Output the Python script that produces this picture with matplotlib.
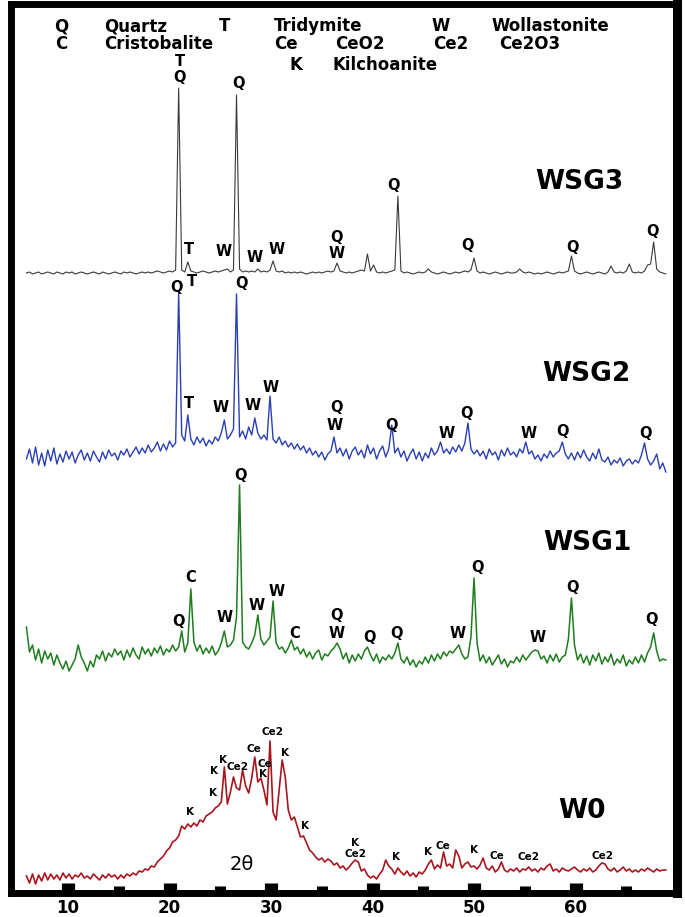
import numpy as np
import matplotlib.pyplot as plt

plt.rcParams['font.family'] = ['DejaVu Sans']

# 2-theta grid (deg) shared by the four patterns
two_theta = np.round(np.arange(5.9, 68.95, 0.3), 1)

# intensities (a.u.), one row = 3 degrees
wsg3 = np.array([
    0, 1, -1, 0, 1, -1, 0, 1, 0, -1,
    1, 0, -1, 1, 0, 1, -1, 0, 1, 0,
    -1, 0, 1, 0, -1, 1, 0, -1, 0, 1,
    0, -1, 1, 0, 1, 0, -1, 0, 1, 0,
    1, 0, 1, 2, 1, 0, 1, 2, 1, 3,
    185, 3, 1, 11, 2, 1, 0, 1, 2, 1,
    0, 1, 2, 1, 2, 3, 4, 1, 3, 178,
    4, 1, 2, 1, 2, 1, 4, 1, 2, 1,
    3, 12, 2, 1, 2, 0, 1, 0, 1, 0,
    1, 0, -1, 0, 1, 0, 1, 0, 1, 2,
    1, 2, 10, 2, 1, 0, 1, 0, 1, 2,
    3, 2, 19, 2, 8, 1, 0, 1, 0, 1,
    2, 3, 77, 2, 0, 1, 0, -1, 0, 1,
    0, 1, 4, 1, 0, -1, 0, 1, 0, -1,
    0, 1, 0, 1, 2, 1, 3, 15, 2, 0,
    1, 0, -1, 0, 1, 0, -1, 0, 1, 0,
    0, 1, 4, 1, 0, 1, 0, -1, 0, -1,
    0, 1, 0, -1, 0, 1, 0, 1, 2, 17,
    2, 0, -1, 0, 1, 0, -1, 0, 1, 0,
    -1, 1, 7, 1, 0, 1, 0, 2, 9, 1,
    0, 1, 0, 2, 8, 9, 31, 4, 1, 0,
    -1])

wsg2 = np.array([
    -2, 8, -6, 10, -8, 4, -9, 7, -4, 9,
    -7, 3, -5, 6, -2, 5, -6, 2, 7, -3,
    4, -4, 6, 0, -5, 5, -2, 7, 1, 4,
    -3, 6, 2, 8, 0, 5, 10, 3, 9, 4,
    12, 5, 9, 15, 6, 13, 7, 16, 10, 14,
    164, 22, 16, 42, 18, 12, 20, 14, 19, 11,
    17, 13, 20, 16, 24, 37, 18, 22, 28, 163,
    20, 26, 18, 30, 22, 39, 24, 18, 22, 17,
    61, 18, 14, 20, 12, 16, 10, 14, 8, 13,
    7, 11, 4, 9, 2, 6, 0, 5, -3, 3,
    6, 20, 4, 9, 1, 8, -2, 6, 10, 2,
    7, -1, 12, 3, 9, -2, 6, 11, 0, 8,
    32, 4, 9, 0, 6, -4, 3, 8, -2, 5,
    -4, 4, -1, 9, 2, 6, 15, 4, 8, 3,
    10, 5, 12, 6, 14, 34, 8, 3, 7, 1,
    6, -2, 8, 2, 5, -3, 7, 1, 9, 2,
    5, 0, 8, 4, 15, 3, 6, -2, 2, -4,
    3, -1, 6, 0, 4, 6, 15, 3, -2, 4,
    -3, 5, -1, 7, 0, -4, 4, -2, 8, -3,
    -5, 0, -8, -3, -6, -1, -9, -4, -2, -7,
    -3, -6, 2, 14, -2, -8, -4, 3, -12, -6,
    -15])

wsg1 = np.array([
    30, 5, 12, -3, 8, -6, 6, -2, 4, -8,
    2, -6, -12, -4, -14, -8, -2, 12, 0, -6,
    -14, -4, -10, 2, -2, 6, -4, 4, 0, 8,
    2, 6, -3, 7, 0, 9, 2, -2, 10, 3,
    8, 1, 9, 4, 11, 2, 8, 5, 12, 6,
    10, 26, 5, 14, 68, 15, 6, 12, 3, 9,
    4, 11, 2, 6, 14, 26, 10, 12, 17, 40,
    172, 15, 10, 8, 14, 22, 42, 18, 12, 16,
    20, 56, 14, 8, 10, 4, 9, 17, 7, 10,
    3, 8, 0, 5, -2, 4, 7, -3, 3, 1,
    6, 9, 14, 8, -2, 4, -6, 2, -4, 3,
    -2, 6, 10, 2, -4, 3, -6, 0, -3, 2,
    -2, 4, 14, -2, -6, 0, -8, -3, -10, -4,
    -7, 0, -6, 2, -4, 3, -2, 5, 1, 6,
    4, 8, 12, 3, -2, 0, 20, 79, 14, -4,
    2, -6, 0, -8, -3, 2, -7, -2, -10, -4,
    -6, 0, -5, 2, -3, 1, 5, 7, 6, -2,
    1, -6, 2, -4, 3, -5, 0, 2, 18, 59,
    12, -3, 3, -6, 1, -8, 2, -4, 4, -7,
    0, -5, 3, -8, -2, -6, 2, -9, -3, -7,
    0, -6, 2, -5, 4, 10, 24, 6, -4, -2,
    -3])

w0 = np.array([
    2, -5, 4, -6, 3, -3, 5, -2, 4, -1,
    3, -2, 5, 0, 4, -1, 3, 1, 5, 0,
    2, -1, 4, 1, -2, 3, 0, 4, 1, 3,
    -1, 3, 0, 4, 2, 5, 3, 7, 6, 9,
    8, 12, 11, 16, 19, 22, 27, 30, 36, 38,
    42, 52, 49, 54, 51, 55, 52, 58, 56, 62,
    64, 66, 70, 72, 76, 111, 74, 86, 101, 90,
    88, 108, 92, 85, 100, 121, 96, 100, 88, 73,
    137, 66, 58, 88, 118, 101, 68, 58, 61, 51,
    41, 42, 35, 28, 25, 21, 18, 20, 16, 19,
    17, 13, 15, 10, 12, 8, 11, 15, 18, 16,
    7, 9, 3, 0, 2, -1, 4, 8, 18, 12,
    9, 4, 10, 6, 3, 7, 2, 5, 1, 6,
    4, 8, 14, 18, 9, 13, 10, 26, 12, 14,
    10, 28, 22, 10, 14, 16, 11, 12, 9, 13,
    20, 10, 8, 12, 6, 9, 16, 8, 6, 9,
    7, 10, 6, 9, 8, 11, 7, 9, 6, 10,
    8, 12, 14, 7, 9, 6, 10, 8, 7, 9,
    11, 8, 6, 9, 7, 10, 6, 8, 12, 15,
    14, 9, 7, 10, 6, 8, 11, 7, 9, 6,
    8, 6, 9, 7, 10, 8, 6, 9, 7, 8,
    8])

samples = ['WSG3', 'WSG2', 'WSG1', 'W0']
patterns = [wsg3, wsg2, wsg1, w0]
offsets = [620, 436, 236, 15]
colors = ['#3a3a3a', '#2b3fb5', '#1f7d1f', '#a8161e']
widths = [0.8, 1.0, 1.1, 1.2]
name_pos = [(60.4, 711), (61.1, 519), (61.2, 350), (60.6, 82)]

# phase key at the top
key_text = [
    (9.3, 867, 'Q', 'center'), (13.55, 867, 'Quartz', 'left'),
    (25.4, 867, 'T', 'center'), (30.3, 867, 'Tridymite', 'left'),
    (46.75, 867, 'W', 'center'), (51.7, 867, 'Wollastonite', 'left'),
    (9.3, 849, 'C', 'center'), (13.55, 849, 'Cristobalite', 'left'),
    (30.3, 849, 'Ce', 'left'), (36.3, 849, 'CeO2', 'left'),
    (46.0, 849, 'Ce2', 'left'), (52.5, 849, 'Ce2O3', 'left'),
    (31.8, 828, 'K', 'left'), (36.1, 828, 'Kilchoanite', 'left'),
]

# peak labels: (2theta, height, text)
peak_labels = [
    # WSG3
    (21.0, 831, 'T'), (21.0, 816, 'Q'), (26.75, 809, 'Q'),
    (21.9, 643, 'T'), (25.3, 641, 'W'), (28.4, 635, 'W'), (30.6, 643, 'W'),
    (36.5, 655, 'Q'), (36.5, 639, 'W'), (42.1, 707, 'Q'), (49.4, 647, 'Q'),
    (59.7, 646, 'Q'), (67.6, 662, 'Q'),
    # WSG2
    (20.7, 605, 'Q'), (22.2, 611, 'T'), (27.1, 610, 'Q'),
    (21.9, 490, 'T'), (25.0, 486, 'W'), (28.2, 488, 'W'), (30.0, 506, 'W'),
    (36.5, 486, 'Q'), (36.3, 467, 'W'), (41.9, 468, 'Q'), (47.3, 459, 'W'),
    (49.3, 480, 'Q'), (55.4, 459, 'W'), (58.7, 461, 'Q'), (66.85, 459, 'Q'),
    # WSG1
    (26.95, 418, 'Q'), (22.1, 315, 'C'), (20.9, 271, 'Q'), (25.4, 275, 'W'),
    (28.6, 288, 'W'), (30.6, 301, 'W'), (32.3, 260, 'C'), (36.5, 278, 'Q'),
    (36.5, 259, 'W'), (39.7, 256, 'Q'), (42.4, 260, 'Q'), (48.4, 260, 'W'),
    (50.3, 326, 'Q'), (56.3, 255, 'W'), (59.7, 306, 'Q'), (67.5, 273, 'Q'),
]

w0_labels = [
    (30.1, 161, 'Ce2'), (28.3, 144, 'Ce'), (31.4, 140, 'K'), (25.3, 133, 'K'),
    (24.4, 122, 'K'), (26.7, 126, 'Ce2'), (29.4, 129, 'Ce'), (29.2, 119, 'K'),
    (24.3, 100, 'K'), (22.0, 81, 'K'), (33.35, 67, 'K'), (38.3, 50, 'K'),
    (38.3, 39, 'Ce2'), (42.3, 36, 'K'), (45.5, 41, 'K'), (46.95, 47, 'Ce'),
    (50.0, 43, 'K'), (52.3, 37, 'Ce'), (55.4, 36, 'Ce2'), (62.7, 37, 'Ce2'),
]

fig = plt.figure(figsize=(6.85, 9.17), dpi=100)
ax = fig.add_axes([11 / 685, 24 / 917, 666 / 685, 889 / 917])
ax.set_xlim(4.38, 70.0)
ax.set_ylim(0, 889)

for pat, off, col, lw in zip(patterns, offsets, colors, widths):
    ax.plot(two_theta, pat + off, color=col, lw=lw)

for (x, y), name in zip(name_pos, samples):
    ax.text(x, y, name, fontsize=19, fontweight='bold', ha='center', va='center')

for x, y, s, ha in key_text:
    ax.text(x, y, s, fontsize=12, fontweight='bold', ha=ha, va='center')

for x, y, s in peak_labels:
    ax.text(x, y, s, fontsize=10.5, fontweight='bold', ha='center', va='center')

for x, y, s in w0_labels:
    ax.text(x, y, s, fontsize=7.5, fontweight='bold', ha='center', va='center')

ax.text(27.1, 28, '2θ', fontsize=14, ha='center', va='center')

for side in ['left', 'right', 'top', 'bottom']:
    ax.spines[side].set_linewidth(5)
ax.spines['right'].set_linewidth(6.5)

ax.set_yticks([])
ax.set_xticks([10, 20, 30, 40, 50, 60])
ax.set_xticks([15, 25, 35, 45, 55, 65], minor=True)
ax.tick_params(axis='x', which='major', direction='in', length=7.2, width=9.5,
               labelsize=12, pad=4)
ax.tick_params(axis='x', which='minor', direction='in', length=5, width=8)
for lbl in ax.get_xticklabels():
    lbl.set_fontweight('bold')

fig.savefig('out.png', dpi=100)
